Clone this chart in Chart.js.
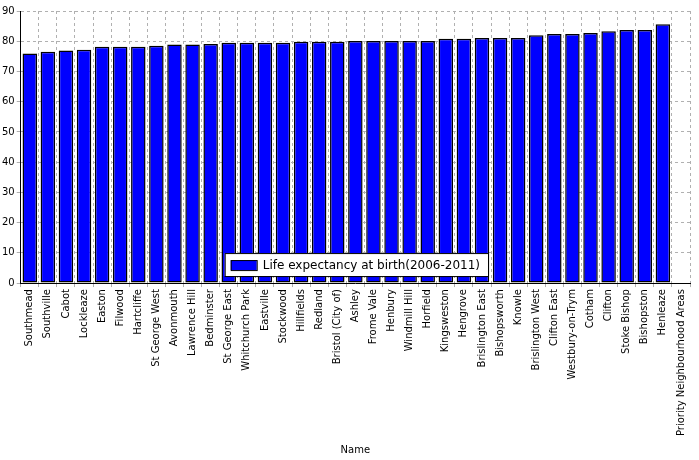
<!DOCTYPE html>
<html>
<head>
<meta charset="utf-8">
<script src="https://cdn.jsdelivr.net/npm/chart.js@4"></script>
<style>
    html, body { margin: 0; padding: 0; background: #fff; }
    #wrap { width: 699px; height: 460px; }
</style>
</head>
<body>
<div id="wrap"><canvas id="chart"></canvas></div>
<script>
const areaNames = ["Southmead", "Southville", "Cabot", "Lockleaze", "Easton", "Filwood", "Hartcliffe", "St George West",
    "Avonmouth", "Lawrence Hill", "Bedminster", "St George East", "Whitchurch Park", "Eastville", "Stockwood",
    "Hillfields", "Redland", "Bristol (City of)", "Ashley", "Frome Vale", "Henbury", "Windmill Hill", "Horfield",
    "Kingsweston", "Hengrove", "Brislington East", "Bishopsworth", "Knowle", "Brislington West", "Clifton East",
    "Westbury-on-Trym", "Cotham", "Clifton", "Stoke Bishop", "Bishopston", "Henleaze", "Priority Neighbourhood Areas"];
const lifeExpectancy = [75.9, 76.5, 76.9, 77.2, 78.2, 78.2, 78.2, 78.5, 78.9, 78.9, 79.1, 79.5, 79.5, 79.5, 79.5,
    79.8, 79.8, 79.8, 80.1, 80.1, 80.1, 80.1, 80.1, 80.8, 80.8, 81.1, 81.1, 81.1, 82.0, 82.4, 82.4, 82.7,
    83.3, 83.7, 83.7, 85.6, null];
const seriesLabel = "Life expectancy at birth(2006-2011)";
const yTicks = [0, 10, 20, 30, 40, 50, 60, 70, 80, 90];

const FONT = "'DejaVu Sans', sans-serif";

// legend drawn inside the plot, near the bottom centre
const innerLegend = {
    id: "innerLegend",
    afterDraw(chart) {
        const { ctx, chartArea } = chart;
        ctx.save();
        ctx.font = "12px " + FONT;
        const textW = ctx.measureText(seriesLabel).width;
        const w = textW + 46, h = 23;
        const x = (chartArea.left + chartArea.right) / 2 - w / 2 + 1;
        const y = chartArea.bottom - h - 7;
        ctx.fillStyle = "#fff";
        ctx.fillRect(x, y, w, h);
        ctx.strokeStyle = "#000";
        ctx.lineWidth = 1;
        ctx.strokeRect(x + 0.5, y + 0.5, w, h);
        ctx.fillStyle = "#0000ff";
        ctx.fillRect(x + 6, y + 7, 26, 10);
        ctx.strokeRect(x + 6.5, y + 7.5, 26, 10);
        ctx.fillStyle = "#000";
        ctx.textBaseline = "middle";
        ctx.fillText(seriesLabel, x + 38, y + h / 2 + 1);
        ctx.restore();
    },
};

new Chart(document.getElementById("chart"), {
    type: "bar",
    data: {
        labels: areaNames,
        datasets: [{
            label: seriesLabel,
            data: lifeExpectancy,
            backgroundColor: "#0000ff",
            borderColor: "#000",
            borderWidth: 1.5,
            borderSkipped: false,
            categoryPercentage: 1,
            barPercentage: 0.8,
        }],
    },
    options: {
        responsive: true,
        maintainAspectRatio: false,
        animation: false,
        layout: { padding: { top: 11, right: 9, left: 0, bottom: 0 } },
        plugins: { legend: { display: false }, tooltip: { enabled: false } },
        scales: {
            x: {
                grid: { color: "#b0b0b0", tickLength: 4 },
                border: { color: "#000", width: 1, dash: [3, 3] },
                ticks: { color: "#000", font: { size: 10, family: FONT }, minRotation: 90, maxRotation: 90, autoSkip: false, padding: 2 },
                title: { display: true, text: "Name", color: "#000", font: { size: 10, family: FONT }, padding: { top: 6, bottom: 4 } },
            },
            y: {
                min: 0,
                max: 90,
                afterBuildTicks: (axis) => { axis.ticks = yTicks.map((v) => ({ value: v })); },
                grid: { color: "#b0b0b0", tickLength: 4 },
                border: { color: "#000", width: 1, dash: [3, 3] },
                ticks: { color: "#000", font: { size: 10, family: FONT }, padding: 2 },
            },
        },
    },
    plugins: [innerLegend],
});
</script>
</body>
</html>
